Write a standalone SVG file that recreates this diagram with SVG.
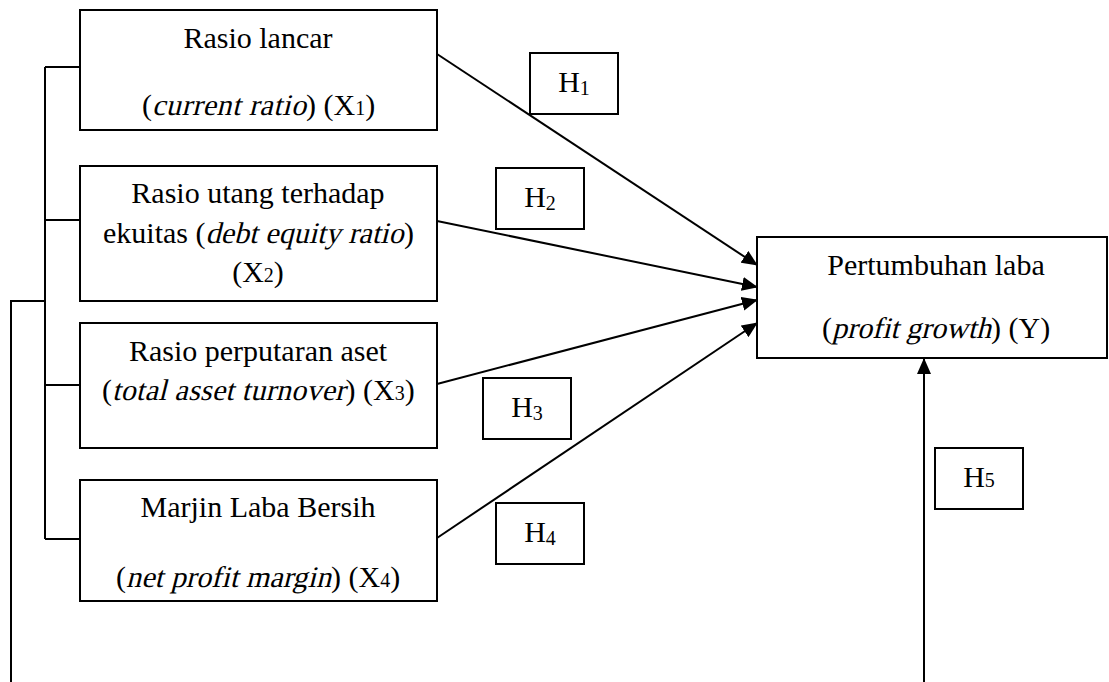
<svg xmlns="http://www.w3.org/2000/svg" width="1109" height="682" viewBox="0 0 1109 682">
<style>
.box{fill:#fff;stroke:#000;stroke-width:2}
.ln{fill:none;stroke:#000;stroke-width:2}
text{font-family:"Liberation Serif","Times New Roman",serif;font-size:30px;fill:#000;text-anchor:middle}
text.l{text-anchor:start}
.s{font-size:20px}
</style>
<defs>
<marker id="ah" markerUnits="userSpaceOnUse" markerWidth="16" markerHeight="14" refX="15" refY="7" orient="auto">
<path d="M0,0 L16,7 L0,14 Z" fill="#000"/>
</marker>
</defs>
<g id="connectors">
<path class="ln" d="M45,67 V539 M45,67 H80 M45,220 H80 M45,385 H80 M45,539 H80 M11,682 V301 H45"/>
<line class="ln" x1="437" y1="54" x2="757" y2="265" marker-end="url(#ah)"/>
<line class="ln" x1="437" y1="221" x2="757" y2="287" marker-end="url(#ah)"/>
<line class="ln" x1="437" y1="384" x2="757" y2="300" marker-end="url(#ah)"/>
<line class="ln" x1="437" y1="538" x2="757" y2="323" marker-end="url(#ah)"/>
<line class="ln" x1="924" y1="682" x2="924" y2="359" marker-end="url(#ah)"/>
</g>
<g id="x1">
<rect class="box" x="80" y="10" width="357" height="120"/>
<text x="258" y="48">Rasio lancar</text>
<text class="l" x="142" y="115">(</text>
<g transform="translate(152,115) skewX(-14)"><text class="l" x="0" y="0" textLength="154" lengthAdjust="spacing">current ratio</text></g>
<text class="l" x="306" y="115">) (X<tspan class="s">1</tspan>)</text>
</g>
<g id="x2">
<rect class="box" x="80" y="166" width="357" height="135"/>
<text x="258" y="203">Rasio utang terhadap</text>
<text class="l" x="103" y="243">ekuitas (</text>
<g transform="translate(205.5,243) skewX(-14)"><text class="l" x="0" y="0" textLength="198" lengthAdjust="spacing">debt equity ratio</text></g>
<text class="l" x="404" y="243">)</text>
<text x="258" y="282">(X<tspan class="s">2</tspan>)</text>
</g>
<g id="x3">
<rect class="box" x="80" y="323" width="357" height="125"/>
<text x="258" y="361">Rasio perputaran aset</text>
<text class="l" x="102" y="400">(</text>
<g transform="translate(112,400) skewX(-14)"><text class="l" x="0" y="0" textLength="233" lengthAdjust="spacing">total asset turnover</text></g>
<text class="l" x="345.5" y="400">) (X<tspan class="s">3</tspan>)</text>
</g>
<g id="x4">
<rect class="box" x="80" y="480" width="357" height="121"/>
<text x="258" y="517">Marjin Laba Bersih</text>
<text class="l" x="116" y="587">(</text>
<g transform="translate(126,587) skewX(-14)"><text class="l" x="0" y="0" textLength="205" lengthAdjust="spacing">net profit margin</text></g>
<text class="l" x="331" y="587">) (X<tspan class="s">4</tspan>)</text>
</g>
<g id="y">
<rect class="box" x="757" y="237" width="350" height="121"/>
<text x="936" y="275">Pertumbuhan laba</text>
<text class="l" x="822" y="338">(</text>
<g transform="translate(832,338) skewX(-14)"><text class="l" x="0" y="0" textLength="159" lengthAdjust="spacing">profit growth</text></g>
<text class="l" x="991" y="338">) (Y)</text>
</g>
<g id="h1">
<rect class="box" x="530" y="53" width="88" height="61"/>
<text x="574" y="92">H<tspan class="s" dy="3">1</tspan></text>
</g>
<g id="h2">
<rect class="box" x="496" y="168" width="88" height="61"/>
<text x="540" y="207">H<tspan class="s" dy="3">2</tspan></text>
</g>
<g id="h3">
<rect class="box" x="483" y="378" width="88" height="61"/>
<text x="527" y="417">H<tspan class="s" dy="3">3</tspan></text>
</g>
<g id="h4">
<rect class="box" x="496" y="503" width="88" height="61"/>
<text x="540" y="542">H<tspan class="s" dy="3">4</tspan></text>
</g>
<g id="h5">
<rect class="box" x="935" y="448" width="88" height="61"/>
<text x="979" y="487">H<tspan class="s">5</tspan></text>
</g>
</svg>
